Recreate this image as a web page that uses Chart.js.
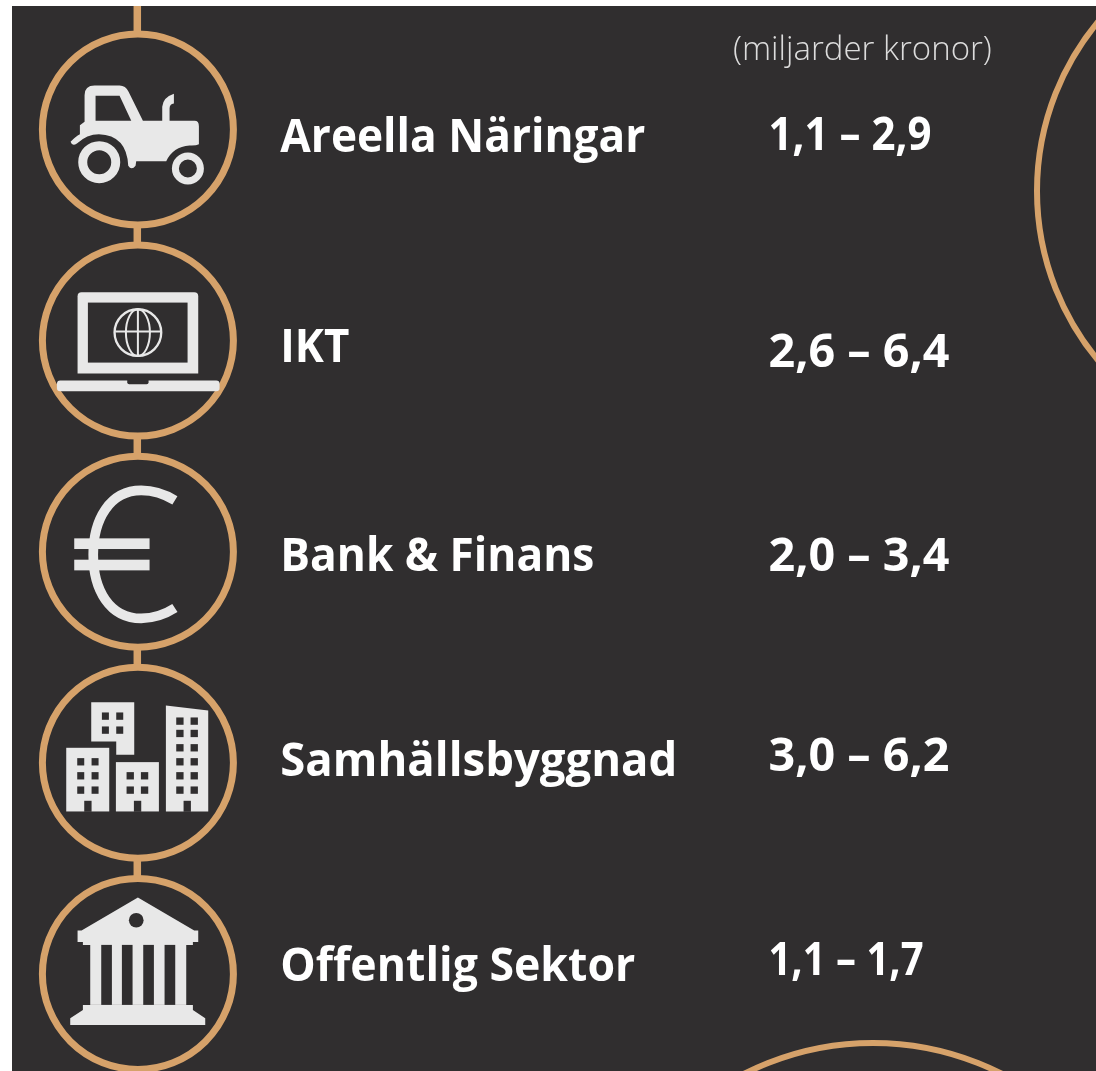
<!DOCTYPE html>
<html lang="sv">
<head>
<meta charset="utf-8">
<title>Areella Näringar</title>
<script src="https://cdn.jsdelivr.net/npm/chart.js@4"></script>
<style>
  html, body { margin: 0; background: #fff; }
  #chart { position: absolute; left: 12px; top: 6px; display: block; }
</style>
</head>
<body>
<canvas id="chart" width="1084" height="1065"></canvas>
<script>
// ==================== DATA ====================
const categories = ['Areella Näringar', 'IKT', 'Bank & Finans', 'Samhällsbyggnad', 'Offentlig Sektor'];
const lowValues = [1.1, 2.6, 2.0, 3.0, 1.1];
const highValues = [2.9, 6.4, 3.4, 6.2, 1.7];
const unitLabel = '(miljarder kronor)';

// ==================== LAYOUT ====================
const PANEL = '#302e2f';
const COPPER = '#d6a26a';
const ICON = '#e8e8e8';
const RING_X = 125.9;
const SPINE_X = 125.3;
const NAME_X = 268.3;
const VALUE_X = 756.5;
// the source places its texts a little unevenly, so nudges per row
const nameNudge = [23, 21, 19, 13, 7];
const valueNudge = [21, 26, 19, 8, 1];
// the installed font runs wider than the source font on some strings
const nameFit = [365, 69, 314, 397, 355];
const valueFit = [163, 181, 181, 181, 155];
const NAME_FONT = '700 46px "Open Sans"';
const VALUE_FONT = '700 47px "Open Sans"';
const UNIT_FONT = '300 33px "Open Sans"';

const yMin = -0.585;
const yMax = 4.46;

function fmt(v) {
  return v.toFixed(1).replace('.', ',');
}

// ==================== ICONS ====================
// Icons are traced in a 3x grid and centred on their ring afterwards
function poly(ctx, pts) {
  ctx.beginPath();
  pts.forEach((p, i) => i ? ctx.lineTo(p[0], p[1]) : ctx.moveTo(p[0], p[1]));
  ctx.closePath();
  ctx.fill();
}

function squares(ctx, xs, ys, w, h) {
  ys.forEach(y => xs.forEach(x => ctx.fillRect(x, y, w, h)));
}

function ringShape(ctx, x, y, r, lw) {
  ctx.beginPath();
  ctx.arc(x, y, r, 0, Math.PI * 2);
  ctx.lineWidth = lw;
  ctx.stroke();
}

function drawTractor(ctx) {
  ctx.beginPath();
  ctx.moveTo(255, 365);
  ctx.lineTo(255, 285);
  ctx.quadraticCurveTo(255, 256, 285, 256);
  ctx.lineTo(360, 256);
  ctx.quadraticCurveTo(378, 256, 387, 275);
  ctx.lineTo(430, 362);
  ctx.lineTo(585, 362);
  ctx.quadraticCurveTo(598, 362, 598, 378);
  ctx.lineTo(598, 432);
  ctx.quadraticCurveTo(590, 437, 570, 436);
  ctx.quadraticCurveTo(520, 440, 500, 483);
  ctx.lineTo(410, 483);
  ctx.lineTo(408, 497);
  ctx.quadraticCurveTo(396, 512, 386, 497);
  ctx.quadraticCurveTo(382, 405, 298, 402);
  ctx.quadraticCurveTo(262, 402, 232, 430);
  ctx.quadraticCurveTo(218, 440, 213, 425);
  ctx.quadraticCurveTo(228, 408, 241, 402);
  ctx.lineTo(241, 375);
  ctx.closePath();
  ctx.fill();
  // exhaust
  ctx.beginPath();
  ctx.moveTo(488, 365);
  ctx.lineTo(488, 320);
  ctx.quadraticCurveTo(490, 292, 523, 281);
  ctx.lineTo(523, 310);
  ctx.quadraticCurveTo(510, 312, 510, 325);
  ctx.lineTo(510, 365);
  ctx.closePath();
  ctx.fill();
  // wheels
  ringShape(ctx, 299, 486, 49.5, 27);
  ringShape(ctx, 565, 505, 37.5, 21);
  // window
  ctx.fillStyle = PANEL;
  poly(ctx, [[288, 287], [360, 287], [395, 362], [288, 362]]);
}

function drawLaptop(ctx) {
  ctx.beginPath();
  ctx.roundRect(234, 877, 362, 244, [12, 12, 0, 0]);
  ctx.fill();
  ctx.beginPath();
  ctx.roundRect(172, 1142, 488, 32, 10);
  ctx.fill();
  ctx.fillStyle = PANEL;
  ctx.fillRect(265, 908, 299, 180);
  ctx.beginPath();
  ctx.roundRect(383, 1136, 64, 17, [0, 0, 6, 6]);
  ctx.fill();
  // globe
  const gx = 415, gy = 998;
  ctx.strokeStyle = ICON;
  ringShape(ctx, gx, gy, 70, 7);
  ctx.lineWidth = 6;
  ctx.beginPath();
  ctx.ellipse(gx, gy, 36, 70, 0, 0, Math.PI * 2);
  ctx.moveTo(gx, gy - 70);
  ctx.lineTo(gx, gy + 70);
  ctx.moveTo(gx - 68, gy - 3);
  ctx.lineTo(gx + 68, gy - 3);
  ctx.stroke();
}

function drawEuro(ctx) {
  ctx.beginPath();
  ctx.moveTo(526, 182);
  ctx.bezierCurveTo(490, 160, 460, 152, 425, 152);
  ctx.bezierCurveTo(330, 152, 281, 240, 281, 345);
  ctx.bezierCurveTo(281, 450, 330, 536, 425, 536);
  ctx.bezierCurveTo(460, 536, 490, 528, 526, 505);
  ctx.lineWidth = 29;
  ctx.stroke();
  ctx.fillRect(224, 296, 226, 32);
  ctx.fillRect(224, 360, 226, 32);
}

function drawBuildings(ctx) {
  poly(ctx, [[275, 787], [404, 787], [404, 945], [350, 945], [350, 905], [275, 905]]);
  ctx.fillRect(200, 924, 129, 191);
  ctx.fillRect(349, 967, 129, 148);
  poly(ctx, [[499, 797], [626, 812], [626, 1115], [499, 1115]]);
  ctx.fillStyle = PANEL;
  squares(ctx, [307, 350], [818, 860], 21, 22);
  squares(ctx, [233, 276], [955, 997, 1040], 21, 22);
  squares(ctx, [381, 424], [997, 1040], 22, 22);
  squares(ctx, [530, 573], [833, 870, 913, 955, 997, 1040], 22, 22);
  squares(ctx, [254, 403, 552], [1083], 22, 33);
}

function drawBank(ctx) {
  poly(ctx, [[415, 143], [584, 242], [596, 242], [596, 276], [580, 276], [580, 285], [250, 285], [250, 276], [234, 276], [234, 242], [246, 242]]);
  ctx.fillRect(272, 285, 288, 180);
  poly(ctx, [[250, 465], [580, 465], [580, 480], [617, 505], [617, 525], [212, 525], [212, 505], [250, 480]]);
  ctx.fillStyle = PANEL;
  ctx.beginPath();
  ctx.arc(410, 211, 22, 0, Math.PI * 2);
  ctx.fill();
  squares(ctx, [305, 367, 431, 495], [285], 32, 180);
}

const iconDraw = [drawTractor, drawLaptop, drawEuro, drawBuildings, drawBank];
const iconOriginY = [388, 1022, 336, 969, 372];

// ==================== PLUGIN ====================
const infographic = {
  id: 'infographic',
  beforeDatasetsDraw(chart) {
    const ctx = chart.ctx;
    ctx.save();
    ctx.fillStyle = PANEL;
    ctx.fillRect(0, 0, chart.width, chart.height);
    // neighbouring rings cut off by the crop
    ctx.strokeStyle = COPPER;
    ctx.lineWidth = 6;
    ctx.beginPath();
    ctx.arc(1290, 185, 265, 0, Math.PI * 2);
    ctx.stroke();
    ctx.beginPath();
    ctx.arc(861, 1322, 285, 0, Math.PI * 2);
    ctx.stroke();
    ctx.restore();
  },
  afterDatasetsDraw(chart) {
    const ctx = chart.ctx;
    const xs = chart.scales.x;
    const ys = chart.scales.y;

    categories.forEach((name, i) => {
      const py = ys.getPixelForValue(i);

      ctx.save();
      ctx.translate(xs.getPixelForValue(RING_X), py);
      ctx.scale(1 / 3, 1 / 3);
      ctx.translate(-415, -iconOriginY[i]);
      ctx.fillStyle = ICON;
      ctx.strokeStyle = ICON;
      iconDraw[i](ctx);
      ctx.restore();

      ctx.save();
      ctx.fillStyle = '#ffffff';
      ctx.textBaseline = 'alphabetic';
      ctx.font = NAME_FONT;
      ctx.fillText(name, xs.getPixelForValue(NAME_X), py + nameNudge[i], nameFit[i]);
      ctx.font = VALUE_FONT;
      ctx.fillText(fmt(lowValues[i]) + ' – ' + fmt(highValues[i]), xs.getPixelForValue(VALUE_X), py + valueNudge[i], valueFit[i]);
      ctx.restore();
    });

    ctx.save();
    ctx.fillStyle = '#dcdcdc';
    ctx.font = UNIT_FONT;
    ctx.fillText(unitLabel, xs.getPixelForValue(721), 54);
    ctx.restore();
  }
};

// ==================== CHART ====================
const rows = categories.map((name, i) => ({ x: RING_X, y: i }));

new Chart(document.getElementById('chart'), {
  type: 'scatter',
  data: {
    datasets: [
      {
        label: 'rings',
        data: rows,
        pointRadius: 95.5,
        pointBorderWidth: 7,
        pointBackgroundColor: PANEL,
        pointBorderColor: COPPER,
        clip: false,
        order: 1
      },
      {
        label: 'spine',
        type: 'line',
        data: [{ x: SPINE_X, y: yMin }, { x: SPINE_X, y: yMax }],
        borderColor: COPPER,
        borderWidth: 7.5,
        pointRadius: 0,
        order: 2
      }
    ]
  },
  options: {
    responsive: false,
    animation: false,
    events: [],
    layout: { padding: 0, autoPadding: false },
    plugins: {
      legend: { display: false },
      tooltip: { enabled: false }
    },
    scales: {
      x: { type: 'linear', display: false, min: 0, max: 1084 },
      y: { type: 'linear', display: false, min: yMin, max: yMax, reverse: true }
    }
  },
  plugins: [infographic]
});
</script>
</body>
</html>
